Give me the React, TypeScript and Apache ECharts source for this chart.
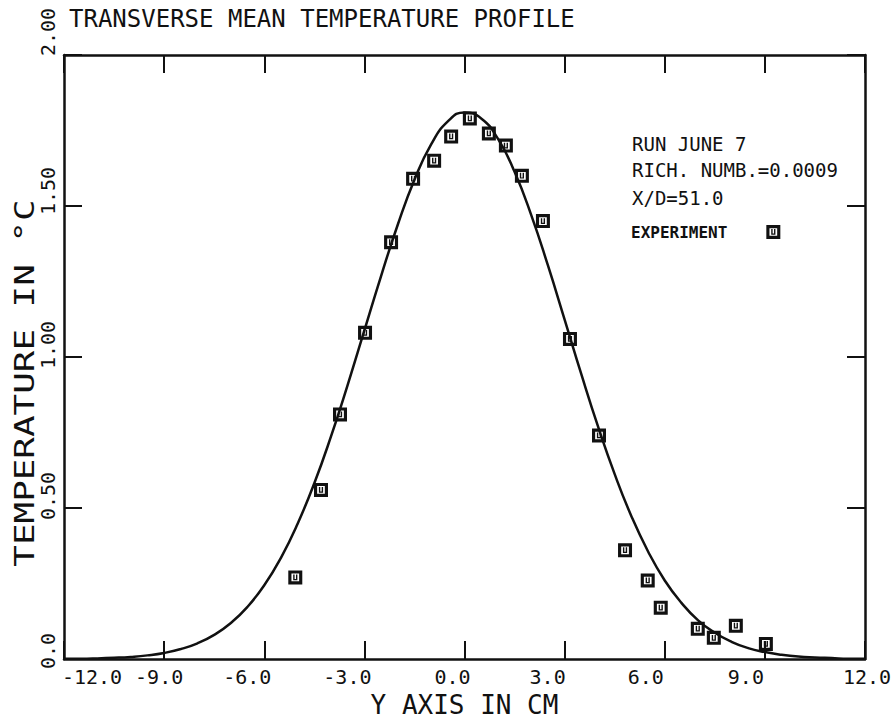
import React, { useEffect, useRef } from "react";
import * as echarts from "echarts";

// ---- data ----
const xTickValues = [-12, -9, -6, -3, 0, 3, 6, 9, 12];
const xTickLabels = ["-12.0", "-9.0", "-6.0", "-3.0", "0.0", "3.0", "6.0", "9.0", "12.0"];
const yTickValues = [0, 0.5, 1.0, 1.5, 2.0];
const yTickLabels = ["0.0", "0.50", "1.00", "1.50", "2.00"];

const experimentX = [-5.07, -4.3, -3.73, -2.98, -2.2, -1.54, -0.91, -0.4, 0.16, 0.73, 1.24, 1.72, 2.35, 3.16, 4.03, 4.81, 5.49, 5.88, 6.99, 7.47, 8.13, 9.03];
const experimentT = [0.27, 0.56, 0.81, 1.08, 1.38, 1.59, 1.65, 1.73, 1.79, 1.74, 1.7, 1.6, 1.45, 1.06, 0.74, 0.36, 0.26, 0.17, 0.1, 0.07, 0.11, 0.05];

const curveX = [-12, -11.5, -11, -10.5, -10, -9.5, -9, -8.5, -8, -7.5, -7, -6.5, -6, -5.5, -5, -4.5, -4, -3.5, -3, -2.5, -2, -1.5, -1, -0.5, 0, 0.5, 1, 1.5, 2, 2.5, 3, 3.5, 4, 4.5, 5, 5.5, 6, 6.5, 7, 7.5, 8, 8.5, 9, 9.5, 10, 10.5, 11, 11.5, 12];
const curveT = [0.001, 0.001, 0.002, 0.004, 0.007, 0.012, 0.02, 0.033, 0.052, 0.08, 0.119, 0.173, 0.244, 0.335, 0.448, 0.582, 0.737, 0.908, 1.088, 1.268, 1.438, 1.587, 1.704, 1.78, 1.81, 1.79, 1.723, 1.613, 1.47, 1.303, 1.124, 0.943, 0.77, 0.612, 0.473, 0.356, 0.26, 0.186, 0.128, 0.087, 0.057, 0.036, 0.023, 0.014, 0.008, 0.005, 0.003, 0.001, 0.001];

const titleText = "TRANSVERSE MEAN TEMPERATURE PROFILE";
const xName = "Y AXIS IN CM";
const yName = "TEMPERATURE IN °C";
const runInfo = ["RUN JUNE 7", "RICH. NUMB.=0.0009", "X/D=51.0"];
const seriesName = "EXPERIMENT";

// ---- styling ----
const FONT = "DejaVu Sans Mono";
const INK = "#111";
const markerPath =
  "path://M0 0H16V16H0Z M3.6 3.6V12.4H12.4V3.6Z M5.6 4.6H7.2V9.8H8.8V4.6H10.4V11.2H5.6Z";
// nudges (px) for the plotter's off-centre tick labels
const xNudge: Record<string, number> = {
  "-12.0": 28, "-9.0": -5, "-6.0": -17, "-3.0": -17, "0.0": -12, "3.0": -17, "6.0": -19, "9.0": -19, "12.0": 2,
};
const yNudge: Record<string, number> = {
  "0.0": -8, "0.50": -12, "1.00": -12, "1.50": -15, "2.00": -23,
};

function richFor(labels: string[], nudge: Record<string, number>, rotated: boolean) {
  const rich: Record<string, any> = {};
  labels.forEach((l, i) => {
    const n = nudge[l] || 0;
    const p = Math.abs(n) * 2;
    let padding: number[];
    if (!rotated) padding = n >= 0 ? [0, 0, 0, p] : [0, p, 0, 0];
    else padding = n <= 0 ? [0, 0, 0, p] : [0, p, 0, 0];
    rich["l" + i] = { fontFamily: FONT, fontSize: 20, color: INK, padding };
  });
  return rich;
}

export default function App() {
  const ref = useRef<HTMLDivElement>(null);
  useEffect(() => {
    document.body.style.margin = "0";
    const chart = echarts.init(ref.current!, undefined, { renderer: "svg" });
    const axisLine = { show: true, onZero: false, lineStyle: { color: INK, width: 2.5 } };
    const tick = { show: true, inside: true, length: 18, lineStyle: { color: INK, width: 2 } };
    chart.setOption({
      animation: false,
      backgroundColor: "#fff",
      title: {
        text: titleText,
        left: 64,
        top: 2,
        textStyle: { fontFamily: FONT, fontSize: 24, fontWeight: "normal", color: INK },
      },
      grid: { left: 64, right: 31, top: 55, bottom: 63, containLabel: false, outerBoundsMode: "none" },
      legend: {
        data: [{ name: seriesName, icon: markerPath }],
        left: 626,
        top: 219,
        align: "right",
        itemWidth: 14,
        itemHeight: 14,
        formatter: "{a|{name}}",
        textStyle: {
          color: INK,
          rich: { a: { fontFamily: FONT, fontSize: 16, fontWeight: "bold", color: INK, padding: [0, 34, 0, 0] } },
        },
      },
      xAxis: [
        {
          type: "value",
          min: -12,
          max: 12,
          interval: 3,
          position: "bottom",
          name: xName,
          nameLocation: "middle",
          nameGap: 33,
          nameTextStyle: { fontFamily: FONT, fontSize: 26, color: INK },
          axisLine,
          axisTick: tick,
          splitLine: { show: false },
          axisLabel: {
            margin: 8,
            formatter: (v: number) => {
              const i = xTickValues.indexOf(v);
              return i < 0 ? "" : `{l${i}|${xTickLabels[i]}}`;
            },
            rich: richFor(xTickLabels, xNudge, false),
          },
        },
        {
          type: "value",
          min: -12,
          max: 12,
          interval: 3,
          position: "top",
          axisLine,
          axisTick: tick,
          splitLine: { show: false },
          axisLabel: { show: false },
        },
      ],
      yAxis: [
        {
          type: "value",
          min: 0,
          max: 2,
          interval: 0.5,
          position: "left",
          axisLine,
          axisTick: tick,
          splitLine: { show: false },
          axisLabel: {
            rotate: 90,
            margin: 6,
            formatter: (v: number) => {
              const i = yTickValues.findIndex((t) => Math.abs(t - v) < 1e-9);
              return i < 0 ? "" : `{l${i}|${yTickLabels[i]}}`;
            },
            rich: richFor(yTickLabels, yNudge, true),
          },
        },
        {
          type: "value",
          min: 0,
          max: 2,
          interval: 0.5,
          position: "right",
          axisLine,
          axisTick: tick,
          splitLine: { show: false },
          axisLabel: { show: false },
        },
      ],
      graphic: [
        ...runInfo.map((t, i) => ({
          type: "text",
          left: 632,
          top: [134, 160, 188][i],
          style: { text: t, fontFamily: FONT, fontSize: 19, fill: INK },
        })),
        {
          type: "text",
          x: 25,
          y: 383,
          rotation: Math.PI / 2,
          scaleX: 1.33,
          style: {
            text: yName,
            fontFamily: FONT,
            fontSize: 27,
            fill: INK,
            align: "center",
            verticalAlign: "middle",
          },
        },
      ],
      series: [
        {
          name: "profile",
          type: "line",
          data: curveX.map((x, i) => [x, curveT[i]]),
          showSymbol: false,
          smooth: true,
          lineStyle: { color: INK, width: 2.5 },
          silent: true,
          z: 2,
        },
        {
          name: seriesName,
          type: "scatter",
          data: experimentX.map((x, i) => [x, experimentT[i]]),
          symbol: markerPath,
          symbolSize: 14,
          itemStyle: { color: INK, opacity: 1 },
          z: 3,
        },
      ],
    });
    return () => chart.dispose();
  }, []);
  return <div ref={ref} style={{ width: 896, height: 722 }} />;
}
